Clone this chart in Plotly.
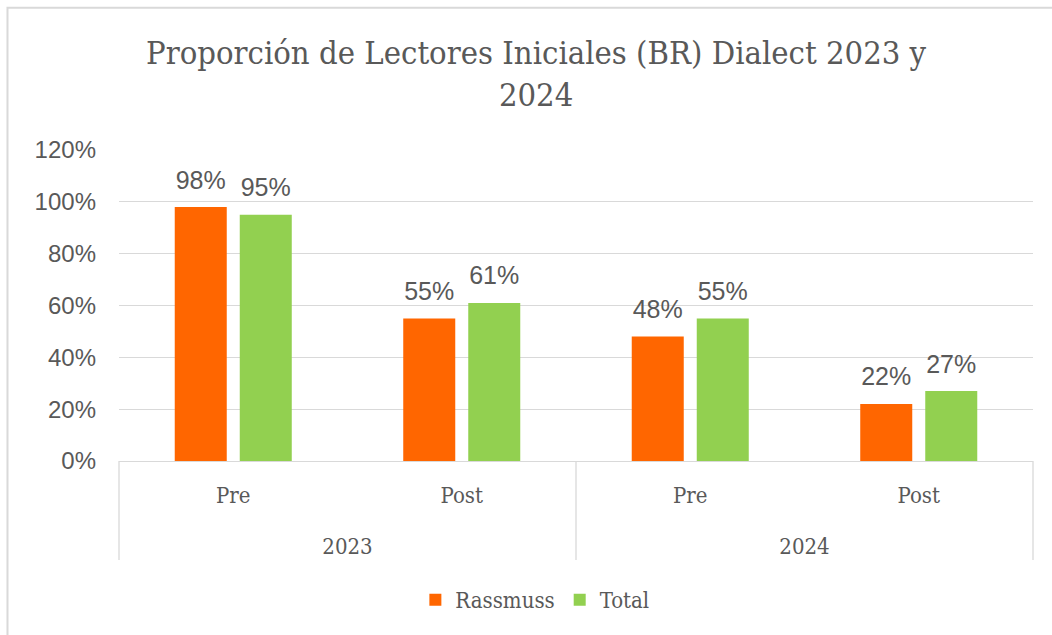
import plotly.graph_objects as go

years = ["2023", "2023", "2024", "2024"]
phases = ["Pre", "Post", "Pre", "Post"]
rassmuss = [0.98, 0.55, 0.48, 0.22]
total = [0.95, 0.61, 0.55, 0.27]
year_labels = ["2023", "2024"]
title_text = "Proporción de Lectores Iniciales (BR) Dialect 2023 y<br>2024"

serif = "DejaVu Serif Condensed, Liberation Serif, serif"
sans = "Liberation Sans, Arial, sans-serif"
grey = "#595959"
line_grey = "#D9D9D9"

keys = [f"{y} {p}" for y, p in zip(years, phases)]

fig = go.Figure()
series = [("Rassmuss", rassmuss, "#FF6600"), ("Total", total, "#92D050")]
for name, vals, col in series:
    fig.add_trace(go.Bar(x=keys, y=vals, name=name, offsetgroup=name,
                         marker=dict(color=col, line=dict(width=0))))
for name, vals, col in series:
    fig.add_trace(go.Scatter(x=keys, y=vals, mode="markers+text", offsetgroup=name,
                             text=[f"{v:.0%}" for v in vals], textposition="top center",
                             marker=dict(size=18, opacity=0), showlegend=False,
                             hoverinfo="skip", cliponaxis=False,
                             textfont=dict(family=sans, size=25, color=grey)))
# carrier trace for the outer (year) category axis
fig.add_trace(go.Scatter(x=year_labels, y=[None] * len(year_labels), xaxis="x2",
                         mode="markers", showlegend=False, hoverinfo="skip"))

fig.update_layout(
    width=1052, height=635,
    margin=dict(l=119, r=19, t=150, b=174),
    paper_bgcolor="white", plot_bgcolor="white",
    barmode="group", bargap=0.431, bargroupgap=0.2,
    scattermode="group", scattergap=0.431,
    legend=dict(orientation="h", x=0.455, xanchor="center", y=-0.447, yanchor="middle",
                font=dict(family=serif, size=22, color=grey), itemwidth=30),
    showlegend=True,
    xaxis=dict(type="category", tickmode="array", tickvals=keys, ticktext=phases,
               showline=True, linecolor=line_grey, linewidth=1.3, ticks="",
               showgrid=False, zeroline=False,
               tickfont=dict(family=serif, size=22, color=grey), ticklabelstandoff=14),
    xaxis2=dict(type="category", overlaying="x", anchor="y", side="bottom",
                range=[-0.5, len(year_labels) - 0.5],
                showline=False, showgrid=False, zeroline=False, ticks="",
                tickfont=dict(family=serif, size=22, color=grey), ticklabelstandoff=70),
    yaxis=dict(range=[0, 1.2], dtick=0.2, tickformat=".0%",
               showgrid=True, gridcolor=line_grey, gridwidth=1.3,
               zeroline=False, showline=False, ticks="",
               tickfont=dict(family=sans, size=24, color=grey), ticklabelstandoff=22),
)
fig.add_annotation(text=title_text, xref="paper", yref="paper", x=0.457, y=1.244,
                   xanchor="center", yanchor="middle", showarrow=False,
                   font=dict(family=serif, size=32.5, color=grey), align="center")

# group divider lines below the axis
for xp in [0, 0.5, 1]:
    fig.add_shape(type="line", xref="paper", yref="paper", x0=xp, x1=xp, y0=0, y1=-0.318,
                  line=dict(color=line_grey, width=1.3))

fig.add_shape(type="rect", xref="paper", yref="paper",
              x0=-0.122, x1=1.3, y0=-0.9, y1=1.457,
              line=dict(color=line_grey, width=2), layer="below")

fig.write_html("out.html")
